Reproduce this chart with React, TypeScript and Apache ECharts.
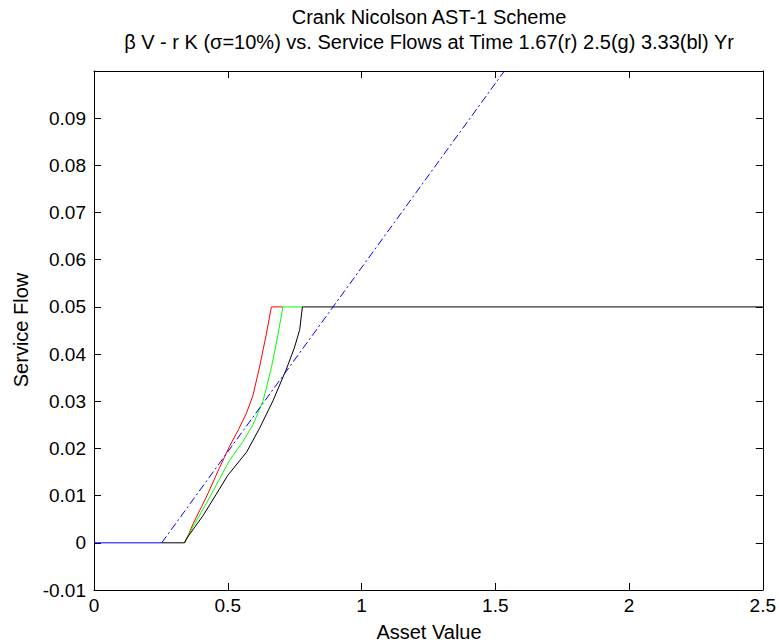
import React, { useEffect, useRef } from "react";
import * as echarts from "echarts";

const titleLine1 = "Crank Nicolson AST-1 Scheme";
const titleLine2 = "β V - r K (σ=10%) vs. Service Flows at Time 1.67(r) 2.5(g) 3.33(bl) Yr";
const xLabel = "Asset Value";
const yLabel = "Service Flow";

// visible parts only (lower layers are hidden by the black / blue lines)
const redX = [0.34, 0.371, 0.42, 0.47, 0.507, 0.54, 0.57, 0.594, 0.619, 0.644, 0.663, 0.706];
const redY = [0, 0.0041, 0.0097, 0.016, 0.0205, 0.024, 0.0275, 0.0312, 0.0373, 0.0442, 0.05, 0.05];

const greenX = [0.338, 0.371, 0.433, 0.507, 0.557, 0.594, 0.632, 0.663, 0.688, 0.706, 0.779];
const greenY = [0, 0.0035, 0.0097, 0.0175, 0.0215, 0.025, 0.0301, 0.0371, 0.0442, 0.05, 0.05];

const blackX = [0.253, 0.338, 0.345, 0.408, 0.47, 0.5, 0.57, 0.619, 0.669, 0.719, 0.75, 0.769, 0.779, 2.5];
const blackY = [0, 0, 0.0008, 0.0058, 0.0115, 0.0143, 0.0192, 0.0243, 0.0301, 0.0368, 0.0415, 0.0452, 0.05, 0.05];

const blueFlatX = [0, 0.253];
const blueFlatY = [0, 0];
const blueX = [0.253, 1.534];
const blueY = [0, 0.1];

const xTicks = [0, 0.5, 1, 1.5, 2, 2.5];

const zip = (xs: number[], ys: number[]) => xs.map((x, i) => [x, ys[i]]);

const FONT = "Liberation Sans, Arial, sans-serif";

export default function App() {
  const ref = useRef<HTMLDivElement>(null);
  useEffect(() => {
    if (!ref.current) return;
    const chart = echarts.init(ref.current, undefined, { renderer: "svg" });
    const left = 94, right = 15, top = 71, bottom = 53;
    const plotCx = left + (779 - left - right) / 2;
    const axisCommon = {
      axisLine: { show: true, onZero: false, lineStyle: { color: "#000", width: 1 } },
      axisTick: { show: true, inside: true, length: 7, lineStyle: { color: "#000" } },
      splitLine: { show: false },
    };
    chart.setOption({
      animation: false,
      backgroundColor: "#fff",
      grid: { left, right, top, bottom, show: false },
      xAxis: [
        {
          type: "value",
          min: 0,
          max: 2.5,
          interval: 0.5,
          position: "bottom",
          ...axisCommon,
          axisLabel: {
            color: "#000",
            fontSize: 19,
            fontFamily: FONT,
            margin: 6,
            formatter: (v: number) => {
              const t = xTicks.find((k) => Math.abs(k - v) < 1e-9);
              return t === undefined ? "" : String(t);
            },
          },
        },
        {
          type: "value",
          min: 0,
          max: 2.5,
          interval: 0.5,
          position: "top",
          ...axisCommon,
          axisLabel: { show: false },
        },
      ],
      yAxis: [
        {
          type: "value",
          min: -0.01,
          max: 0.1,
          interval: 0.01,
          position: "left",
          ...axisCommon,
          axisLabel: {
            color: "#000",
            fontSize: 19,
            fontFamily: FONT,
            margin: 8,
            formatter: (v: number) => {
              if (Math.abs(v) < 1e-9) return "0";
              if (v > 0.0995) return "";
              return String(parseFloat(v.toFixed(2)));
            },
          },
        },
        {
          type: "value",
          min: -0.01,
          max: 0.1,
          interval: 0.01,
          position: "right",
          ...axisCommon,
          axisLabel: { show: false },
        },
      ],
      graphic: [
        {
          type: "text",
          x: plotCx,
          y: 17,
          style: { text: titleLine1, fill: "#000", font: `20px ${FONT}`, align: "center", verticalAlign: "middle" },
        },
        {
          type: "text",
          x: plotCx,
          y: 42,
          style: { text: titleLine2, fill: "#000", font: `20px ${FONT}`, align: "center", verticalAlign: "middle" },
        },
        {
          type: "text",
          x: plotCx,
          y: 632,
          style: { text: xLabel, fill: "#000", font: `20px ${FONT}`, align: "center", verticalAlign: "middle" },
        },
        {
          type: "text",
          x: 21,
          y: 330,
          rotation: Math.PI / 2,
          style: { text: yLabel, fill: "#000", font: `20px ${FONT}`, align: "center", verticalAlign: "middle" },
        },
      ],
      series: [
        {
          type: "line",
          data: zip(redX, redY),
          symbol: "none",
          lineStyle: { color: "#ff0000", width: 1 },
          clip: true,
        },
        {
          type: "line",
          data: zip(greenX, greenY),
          symbol: "none",
          lineStyle: { color: "#00ff00", width: 1 },
          clip: true,
        },
        {
          type: "line",
          data: zip(blackX, blackY),
          symbol: "none",
          lineStyle: { color: "#000000", width: 1 },
          clip: true,
        },
        {
          type: "line",
          data: zip(blueFlatX, blueFlatY),
          symbol: "none",
          lineStyle: { color: "#0000ff", width: 1 },
          clip: true,
        },
        {
          type: "line",
          data: zip(blueX, blueY),
          symbol: "none",
          lineStyle: { color: "#0000ff", width: 1, type: [8, 3, 2, 3] },
          clip: true,
        },
      ],
    });
    return () => chart.dispose();
  }, []);
  return (
    <div
      ref={ref}
      style={{ position: "fixed", left: 0, top: 0, width: 779, height: 643, background: "#fff" }}
    />
  );
}
